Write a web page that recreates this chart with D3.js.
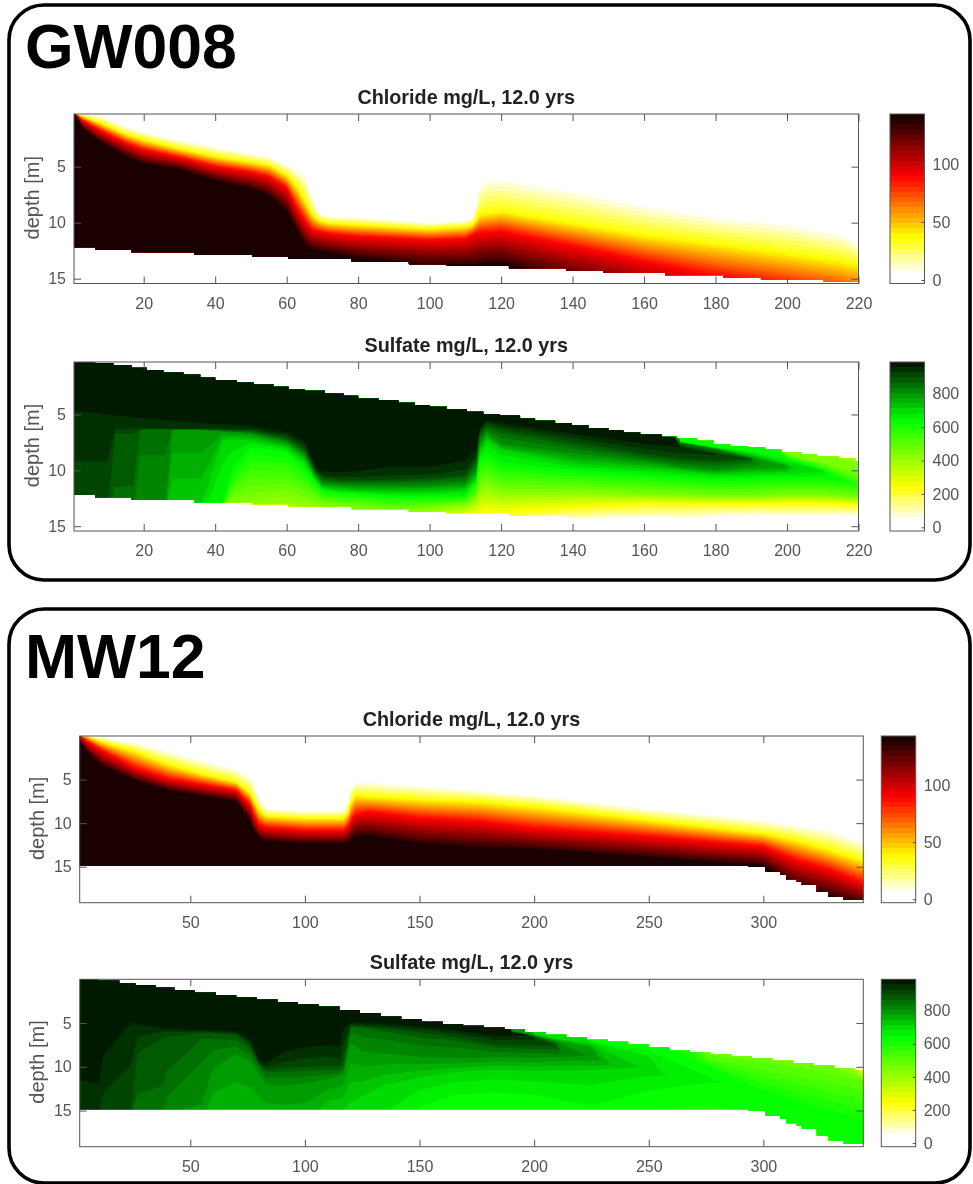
<!DOCTYPE html>
<html>
<head>
<meta charset="utf-8">
<script src="https://cdn.jsdelivr.net/npm/d3@7"></script>
<style>
  html, body { margin: 0; padding: 0; background: #fff; }
  svg { display: block; font-family: "Liberation Sans", Arial, sans-serif; }
  .tick text { fill: #555; font-size: 16px; }
  .tick line { stroke: #555; }
</style>
</head>
<body>
<div id="chart"></div>
<script>
var deep = 25, shallow = 0;

// GW008 ---------------------------------------------------------------
var gwXTicks = [20, 40, 60, 80, 100, 120, 140, 160, 180, 200, 220];
var gwBottomX = [0.5, 6.4, 16.6, 34.2, 50.4, 60.5, 78.2, 94.2, 104.6, 122.2, 138.3, 148.6, 165.9, 182.2, 192.7, 210.2, 220];
var gwBottom = [12.2, 12.44, 12.65, 12.88, 13.03, 13.24, 13.48, 13.72, 13.84, 14.07, 14.31, 14.46, 14.7, 14.91, 15.1, 15.27, 15.27];
var gwTopX = [0.5, 6.4, 11.5, 16.6, 20.8, 25.5, 31.1, 35.8, 40, 46, 50.7, 56.3, 60.5, 65.1, 70.7, 75.9, 80, 85.7, 91.3, 95.9, 100.1, 104.8, 110.4, 115, 119.7, 125.3, 129.5, 135.1, 139.8, 144.4, 150, 154.2, 158.9, 165, 169.2, 174.8, 179.5, 184.1, 189.2, 193.9, 198.6, 204.2, 208.4, 214.5, 219.1, 220];
var gwTop = [0.3, 0.4, 0.58, 0.81, 1.02, 1.23, 1.41, 1.68, 1.92, 2.13, 2.31, 2.52, 2.76, 2.88, 3.12, 3.33, 3.57, 3.71, 3.95, 4.16, 4.31, 4.52, 4.76, 4.97, 5.06, 5.36, 5.57, 5.75, 5.96, 6.2, 6.4, 6.61, 6.79, 7, 7.15, 7.36, 7.66, 7.84, 7.96, 8.14, 8.41, 8.56, 8.74, 8.95, 9.19, 9.19];

var gwClX = [1, 3, 8, 15, 20, 30, 40, 50, 55, 60, 63, 65, 67, 69, 72, 80, 100, 110, 112, 113, 114, 116, 120, 140, 160, 180, 200, 215, 220];
var clLevels = [6, 37, 89, 135];
var gwCl6 = [.33, .33, .45, 1.4, 1.9, 2.6, 3.2, 3.8, 4.1, 4.85, 5.3, 5.6, 7.6, 9.2, 9.4, 9.5, 10, 9.8, 9.5, 8.5, 6.7, 6.04, 6.04, 7.1, 8.4, 9.46, 10.06, 11, 11.85];
var gwCl37 = [.33, .5, 1.1, 2.1, 2.6, 3.4, 4.1, 4.6, 4.85, 5.75, 6.8, 8, 9.2, 9.8, 10.05, 10.2, 10.55, 10.35, 10.2, 9.8, 9.3, 9.17, 9, 10.06, 11.1, 11.85, 12.74, 13.4, 13.78];
var gwCl89 = [.33, .9, 1.8, 2.9, 3.5, 4.2, 5, 5.5, 5.9, 6.9, 8.8, 9.8, 10.65, 10.8, 11, 11.25, 11.55, 11.45, 11.1, 10.95, 10.9, 10.9, 10.8, 12.1, 13.5, 14.8, 15.7, 16.5, 16.9];
var gwCl135 = [.5, 1.6, 2.8, 4, 4.7, 5.2, 6.2, 6.9, 7.5, 8.9, 10.7, 11.85, 12.3, 12.45, 12.6, 13.05, 13.7, 13.7, 13.7, 13.7, 13.6, 13.5, 13.5, 15.1, 16.6, 18, 20, 21.5, 22];

var gwSoX = [1, 10, 12, 17, 19, 26, 28, 36, 38, 42, 45, 50, 60, 65, 68, 70, 75, 80, 90, 100, 110, 113, 114, 116, 120, 140, 160, 165, 170, 180, 190, 200, 210, 220];
var gwSoLevels = [50, 244, 450, 644, 700, 800, 850, 900, 950, 985];
var gwSo50 = [18, 18, 18, 18, 18, 18, 18, 18, 18, 18, 18, 18, 18, 18, 18, 18, 18, 18, 18, 18, 18, 18, 18, 17, 15.5, 14.5, 14.3, 14.3, 14.3, 14.2, 14.1, 14.1, 14.1, 14.1];
var gwSo244 = [16, 16, 16, 16, 16, 16, 16, 16, 16, 16, 16, 16, 16, 15.5, 15.5, 15.5, 15.5, 15.5, 15, 14.6, 14.1, 13.9, 13.8, 13.7, 13.7, 13.3, 13, 13, 13, 13, 13, 12.9, 12.9, 13.1];
var gwSo450 = [15, 15, 15, 15, 15, 15, 15, 14, 13.6, 13, 12.7, 12.4, 12, 12.5, 12.8, 13, 13.2, 13.3, 13.6, 13.4, 13, 12.5, 11.5, 11.2, 11.8, 11.8, 12.1, 12.15, 12.2, 12.3, 12.3, 12.2, 12.2, 12.4];
var gwSo644 = [14, 14, 14, 14, 14, 14, 14, 14, 14, 13.5, 10, 8, 8.4, 9.8, 11, 11.8, 12, 12.1, 12.3, 12.3, 12.3, 11, 9, 8.6, 9.4, 10, 10.4, 10.5, 10.6, 10.8, 10.7, 10.6, 10.6, 11];
var gwSo700 = [14, 14, 14, 14, 14, 14, 14, 14, 12, 7.4, 7.3, 7.4, 8, 9.2, 10.8, 11.6, 11.8, 11.9, 12, 12, 11.8, 10.8, 8.5, 7.4, 8.2, 9.5, 9.9, 10, 10.1, 10.4, 10.3, 10.2, 9.9, 0];
var gwSo800 = [14, 14, 14, 14, 14, 14, 6.4, 6.4, 6.45, 6.55, 6.6, 6.7, 7.5, 8.6, 10.4, 11.2, 11.3, 11.4, 11.4, 11.4, 11.2, 10, 7.6, 6.6, 7.7, 8.5, 9.2, 9.4, 9.7, 10, 9.7, 9.6, 0, 0];
var gwSo850 = [14, 14, 14, 14, 6.35, 6.35, 6.35, 6.35, 6.4, 6.45, 6.5, 6.6, 7.3, 8.3, 10.2, 10.9, 11.1, 11.1, 11.1, 11, 10.8, 9.5, 7.1, 6.3, 6.8, 7.9, 8.9, 9.1, 9.3, 9.5, 9.2, 0, 0, 0];
var gwSo900 = [13, 13, 6.3, 6.3, 6.3, 6.3, 6.3, 6.3, 6.3, 6.35, 6.4, 6.4, 7, 8, 10, 10.6, 10.8, 10.85, 10.8, 10.7, 10.4, 9, 6.6, 5.9, 6.3, 7.4, 8.5, 8.7, 8.9, 9.1, 8.9, 0, 0, 0];
var gwSo950 = [6.2, 6.2, 6.2, 6.2, 6.2, 6.2, 6.2, 6.2, 6.2, 6.2, 6.2, 6.25, 6.7, 7.5, 9.8, 10.3, 10.44, 10.4, 10.14, 10.1, 9.6, 8.5, 6.4, 5.6, 5.9, 6.85, 7.75, 7.9, 8.1, 8.3, 0, 0, 0, 0];
var gwSo985 = [.34, 1.6, 1.9, 2.6, 2.85, 3.45, 3.7, 4.5, 4.7, 5, 5.15, 5.55, 6.25, 7, 9.25, 9.4, 9.4, 8.95, 8.25, 8.55, 7.9, 7.15, 5.8, 5.3, 5.5, 6.4, 7.3, 7.45, 7.35, 0, 0, 0, 0, 0];

// top edge of each level on the right, where fresher water sits on the plume
var gwUpX = [160, 165, 170, 180, 190, 200, 210, 220];
var gwUp450 = [0, 0, 0, 0, 0, 8.55, 9.25, 10.14];
var gwUp644 = [0, 0, 7.4, 7.9, 8.3, 8.95, 10, 11.8];
var gwUp700 = [0, 0, 7.45, 8, 8.5, 9.4, 10, 20];
var gwUp800 = [0, 0, 7.5, 8.05, 8.9, 9.7, 20, 20];
var gwUp850 = [0, 7.1, 7.6, 8.2, 8.9, 20, 20, 20];
var gwUp900 = [0, 7.2, 7.8, 8.5, 9, 20, 20, 20];
var gwUp950 = [0, 7.3, 7.9, 8.5, 20, 20, 20, 20];
var gwUp985 = [0, 0, 7.4, 20, 20, 20, 20, 20];

// MW12 ----------------------------------------------------------------
var mwXTicks = [50, 100, 150, 200, 250, 300];
var mwBottomX = [1.75, 293.5, 300.8, 307.3, 310, 314.6, 316.8, 323.3, 328.4, 335, 343.6];
var mwBottom = [14.85, 15, 15.6, 15.95, 16.45, 16.75, 17.1, 17.87, 18.44, 18.8, 18.8];
var mwTopX = [2, 10, 19, 26, 35, 43, 52, 61, 70, 79, 88, 97, 106, 115, 124, 133, 142, 151, 160, 169, 178, 187, 196, 205, 214, 223, 232, 241, 250, 259, 268, 277, 286, 295, 304, 313, 322, 331, 340, 343.6];
var mwTop = [0, .15, .45, .65, .95, 1.22, 1.5, 1.8, 2.05, 2.3, 2.6, 2.85, 3.1, 3.5, 3.85, 4.25, 4.55, 4.85, 5.1, 5.3, 5.5, 5.7, 6.05, 6.35, 6.65, 6.9, 7.15, 7.45, 7.8, 8.1, 8.35, 8.6, 8.8, 9, 9.3, 9.6, 9.85, 10.15, 10.4, 10.4];

var mwClX = [2, 5, 11, 26, 40, 55, 70, 76, 78, 80, 83, 100, 117, 119, 120, 122, 128, 150, 176, 200, 250, 300, 314, 329, 343];
var mwCl6 = [0, 0, .13, .75, 1.67, 2.74, 3.8, 4.65, 5.6, 7.15, 8.3, 8.56, 8.5, 7.3, 5.8, 5.3, 5.23, 5.7, 6.19, 6.76, 8.3, 9.64, 10.2, 10.8, 12.1];
var mwCl37 = [0, 0, .63, 1.78, 3.24, 4.35, 5.3, 6.5, 7.53, 8.56, 9.18, 9.44, 9.44, 8.68, 7.72, 6.76, 6.95, 7.26, 7.53, 8.1, 9.64, 11.17, 11.93, 13.08, 14.23];
var mwCl89 = [0, .63, 1.6, 3.7, 4.92, 5.6, 6.26, 7.9, 9.25, 10.2, 10.5, 10.86, 10.86, 10.4, 9.83, 9.06, 8.75, 9.44, 9.83, 10.6, 11.55, 12.7, 14.23, 15.38, 16.9];
var mwCl135 = [.63, 1.78, 3.3, 5.04, 6.2, 6.84, 7.45, 9.64, 11, 11.63, 12, 12.3, 12.3, 12.1, 11.75, 11.36, 11.36, 12.24, 12.7, 12.9, 13.85, 14.8, 17, 18.3, 19.2];

var mwSoX = [2, 10, 12, 24, 27, 38, 40, 55, 60, 70, 76, 80, 83, 90, 100, 110, 115, 117, 120, 125, 135, 150, 165, 183, 200, 225, 250, 275, 297, 320, 343];
var mwSoLevels = [200, 300, 500, 644, 700, 800, 850, 900, 950, 985];
var mwSo644 = [20, 20, 20, 20, 20, 20, 20, 20, 20, 20, 20, 20, 20, 20, 20, 20, 20, 20, 20, 20, 20, 14.9, 13.5, 13.2, 13.5, 14.9, 13, 12, 13.2, 16, 18];
var mwSo700 = [20, 20, 20, 20, 20, 20, 20, 20, 20, 20, 20, 20, 20, 20, 20, 15.5, 15.5, 15.5, 14.9, 14, 12.5, 11.5, 10.8, 10.5, 10.7, 10.6, 10, 10.5, 0, 0, 0];
var mwSo800 = [15.5, 15.5, 15.5, 15.5, 15.5, 15.5, 15.5, 15, 10.4, 8.7, 9.5, 11, 12, 12.3, 12, 11.5, 11.1, 10.7, 7.5, 8.5, 8.7, 9, 9.2, 9, 9, 8.8, 9.5, 0, 0, 0, 0];
var mwSo850 = [15.5, 15.5, 15.5, 15.5, 15.5, 15, 12.5, 7.2, 7.15, 7.3, 8.4, 10, 10.8, 10.8, 10.7, 10.6, 10.6, 10.2, 5.5, 5.7, 6.2, 6.9, 7.2, 8, 8.2, 8.3, 0, 0, 0, 0, 0];
var mwSo900 = [15.5, 15.5, 15.5, 15.5, 8, 6.2, 6.2, 6.1, 6.1, 6.3, 7.5, 9.6, 10.3, 10.1, 10, 9.9, 9.9, 8.8, 5.3, 5.4, 5.6, 6, 6.5, 7.4, 7.5, 7.6, 0, 0, 0, 0, 0];
var mwSo950 = [15.5, 15.5, 11, 5.4, 5.5, 5.8, 5.85, 5.9, 6, 6.05, 7, 9.6, 9.8, 9, 8.3, 8, 8.5, 6, 5, 5.1, 5.2, 5.5, 5.9, 6.6, 6.4, 6.4, 0, 0, 0, 0, 0];
var mwSo985 = [.12, 1.84, 2.22, 3.63, 4.12, 5.08, 5.15, 5.46, 5.53, 5.65, 6.4, 8.12, 8.7, 6.6, 6.2, 6, 5.46, 4.8, 4.62, 4.7, 4.8, 5.15, 5.53, 6.22, 6.2, 0, 0, 0, 0, 0, 0];

var mwUpX = [183, 190, 200, 210, 225, 250, 275, 297, 320, 343];
var mwUp300 = [0, 0, 0, 0, 0, 0, 0, 0, 0, 10.6];
var mwUp500 = [0, 0, 0, 0, 0, 0, 8.8, 9.6, 10.6, 11.6];
var mwUp644 = [0, 0, 0, 0, 7.1, 8, 10, 13, 15, 17];
var mwUp700 = [0, 0, 6.3, 6.8, 7.3, 9.3, 20, 20, 20, 20];
var mwUp800 = [0, 5.9, 6.4, 7.1, 7.9, 20, 20, 20, 20, 20];
var mwUp850 = [0, 6, 6.5, 7.3, 20, 20, 20, 20, 20, 20];
var mwUp900 = [0, 6, 6.7, 7.6, 20, 20, 20, 20, 20, 20];
var mwUp950 = [0, 6, 6.5, 20, 20, 20, 20, 20, 20, 20];
var mwUp985 = [0, 5.9, 6.3, 20, 20, 20, 20, 20, 20, 20];

// colour maps
var chlorideMap = d3.scaleLinear().domain([6, 37, 89, 140])
    .range(["#ffffff", "#ffff00", "#ff0000", "#1a0000"]).clamp(true);
var sulfateMap = d3.scaleLinear().domain([44, 244, 644, 975])
    .range(["#ffffff", "#ffff00", "#00ff00", "#001a00"]).clamp(true);

var nColors = 32;
var width = 973, height = 1184;

var svg = d3.select("#chart").append("svg")
    .attr("width", width)
    .attr("height", height)
    .style("filter", "blur(0.6px)");

var clipCount = 0;

function rowScale(xs, row) {
    if (!Array.isArray(row)) return function() { return row; };
    return d3.scaleLinear().domain(xs).range(row);
}

function stepClip(x, y, xs, y0s, y1s) {
    var id = "clip" + (clipCount++);
    var area = d3.area()
        .curve(d3.curveStepAfter)
        .x(function(d) { return x(d); })
        .y0(function(d, i) { return y(y0s(i)); })
        .y1(function(d, i) { return y(y1s(i)); });
    svg.append("clipPath").attr("id", id).append("path").attr("d", area(xs));
    return "url(#" + id + ")";
}

function drawPanel(p) {
    var x = d3.scaleLinear().domain(p.xDomain).range([p.left, p.right]);
    var y = d3.scaleLinear().domain(p.yDomain).range([p.top, p.bottom]);

    svg.append("text")
        .attr("x", (p.left + p.right) / 2)
        .attr("y", p.top - 10)
        .attr("text-anchor", "middle")
        .attr("font-weight", "bold")
        .attr("font-size", 19.8)
        .attr("fill", "#222")
        .text(p.title);

    // stair-step edges of the model domain
    var bottomClip = stepClip(x, y, p.bottomX,
        function() { return p.yDomain[0]; },
        function(i) { return p.bottomD[i]; });
    var topClip = p.topX ? stepClip(x, y, p.topX,
        function(i) { return p.topD[i]; },
        function() { return p.yDomain[1]; }) : null;

    var heat = svg.append("g").attr("clip-path", bottomClip)
        .append("g").attr("clip-path", topClip);

    var lows = p.low.map(function(r) { return rowScale(p.xs, r); });
    var ups = p.up.map(function(r) { return rowScale(p.upXs, r); });

    var pixels = d3.range(p.left, p.right + 1).map(function(px) {
        var dx = x.invert(px);
        return {
            px: px,
            low: d3.scaleLinear().domain(p.levels).range(lows.map(function(s) { return s(dx); })).clamp(true),
            up: d3.scaleLinear().domain(p.levels).range(ups.map(function(s) { return s(dx); })).clamp(true)
        };
    });

    // filled contours, lowest band first
    var step = p.cTop / nColors;
    var bands = d3.range(nColors).map(function(j) { return j * step; });

    var contour = function(v) {
        return d3.area()
            .x(function(d) { return d.px; })
            .y0(function(d) { return y(d.up(v)); })
            .y1(function(d) { return y(Math.max(d.up(v), d.low(v))); })(pixels);
    };

    heat.selectAll("path.band").data(bands).enter().append("path")
        .attr("class", "band")
        .attr("d", function(v) { return contour(v); })
        .attr("fill", function(v) { return p.cmap(v + step / 2); });

    // axes, matlab style with inward ticks on all four sides
    var axes = svg.append("g");
    axes.append("g").attr("transform", "translate(0," + p.bottom + ")")
        .call(d3.axisBottom(x).tickValues(p.xTicks).tickSize(-7).tickPadding(14));
    axes.append("g").attr("transform", "translate(0," + p.top + ")")
        .call(d3.axisTop(x).tickValues(p.xTicks).tickSize(-7).tickFormat(""));
    axes.append("g").attr("transform", "translate(" + p.left + ",0)")
        .call(d3.axisLeft(y).tickValues([5, 10, 15]).tickSize(-7).tickPadding(8));
    axes.append("g").attr("transform", "translate(" + p.right + ",0)")
        .call(d3.axisRight(y).tickValues([5, 10, 15]).tickSize(-7).tickFormat(""));
    axes.selectAll(".domain").remove();

    svg.append("rect")
        .attr("x", p.left).attr("y", p.top)
        .attr("width", p.right - p.left).attr("height", p.bottom - p.top)
        .attr("fill", "none").attr("stroke", "#555");

    svg.append("text")
        .attr("transform", "translate(" + p.labelX + "," + ((p.top + p.bottom) / 2 - 1) + ") rotate(-90)")
        .attr("text-anchor", "middle")
        .attr("font-size", 20)
        .attr("fill", "#555")
        .text("depth [m]");

    // colour bar
    var c = d3.scaleLinear().domain(p.cDomain).range([p.bottom, p.top]);
    svg.selectAll(null).data(bands).enter().append("rect")
        .attr("x", p.barLeft)
        .attr("width", p.barRight - p.barLeft)
        .attr("y", function(v) { return Math.round(c(Math.min(v + step, p.cDomain[1]))); })
        .attr("height", function(v) {
            return Math.round(c(v)) - Math.round(c(Math.min(v + step, p.cDomain[1])));
        })
        .attr("fill", function(v) { return p.cmap(v + step / 2); });
    svg.append("g").attr("transform", "translate(" + p.barRight + ",0)")
        .call(d3.axisRight(c).tickValues(p.cTicks).tickSize(-3).tickPadding(8))
        .select(".domain").remove();
    svg.append("rect")
        .attr("x", p.barLeft).attr("y", p.top)
        .attr("width", p.barRight - p.barLeft).attr("height", p.bottom - p.top)
        .attr("fill", "none").attr("stroke", "#555");
}

function frame(y, h, name, nameX, baseline) {
    svg.append("rect")
        .attr("x", 9).attr("y", y)
        .attr("width", 961).attr("height", h)
        .attr("rx", 35).attr("ry", 35)
        .attr("fill", "#fff").attr("stroke", "#000").attr("stroke-width", 3.6);
    svg.append("text")
        .attr("x", nameX).attr("y", baseline)
        .attr("font-size", 62.5).attr("font-weight", "bold")
        .text(name);
}

frame(5, 575, "GW008", 25, 68);
frame(609, 574, "MW12", 25, 678);

var clTicks = [0, 50, 100], soTicks = [0, 200, 400, 600, 800];

drawPanel({
    title: "Chloride mg/L, 12.0 yrs", left: 74, right: 858.5, top: 114, bottom: 283.5, labelX: 39,
    xDomain: [0.5, 220], yDomain: [0.3, 15.43], xTicks: gwXTicks,
    bottomX: gwBottomX, bottomD: gwBottom,
    xs: gwClX, levels: clLevels, low: [deep, deep, deep, deep],
    upXs: gwClX, up: [gwCl6, gwCl37, gwCl89, gwCl135],
    cmap: chlorideMap, cDomain: [-3, 143], cTop: 143, cTicks: clTicks, barLeft: 890, barRight: 924.5
});
drawPanel({
    title: "Sulfate mg/L, 12.0 yrs", left: 74, right: 858.5, top: 362, bottom: 531, labelX: 39,
    xDomain: [0.5, 220], yDomain: [0.3, 15.43], xTicks: gwXTicks,
    bottomX: gwBottomX, bottomD: gwBottom, topX: gwTopX, topD: gwTop,
    xs: gwSoX, levels: gwSoLevels,
    low: [gwSo50, gwSo244, gwSo450, gwSo644, gwSo700, gwSo800, gwSo850, gwSo900, gwSo950, gwSo985],
    upXs: gwUpX,
    up: [shallow, shallow, gwUp450, gwUp644, gwUp700, gwUp800, gwUp850, gwUp900, gwUp950, gwUp985],
    cmap: sulfateMap, cDomain: [-22, 990], cTop: 990, cTicks: soTicks, barLeft: 890, barRight: 924.5
});
drawPanel({
    title: "Chloride mg/L, 12.0 yrs", left: 79.7, right: 863.3, top: 736, bottom: 902.7, labelX: 44,
    xDomain: [1.75, 343.6], yDomain: [0, 19.13], xTicks: mwXTicks,
    bottomX: mwBottomX, bottomD: mwBottom,
    xs: mwClX, levels: clLevels, low: [deep, deep, deep, deep],
    upXs: mwClX, up: [mwCl6, mwCl37, mwCl89, mwCl135],
    cmap: chlorideMap, cDomain: [-3, 143], cTop: 143, cTicks: clTicks, barLeft: 881.3, barRight: 915.7
});
drawPanel({
    title: "Sulfate mg/L, 12.0 yrs", left: 79.7, right: 863.3, top: 979.3, bottom: 1146.7, labelX: 44,
    xDomain: [1.75, 343.6], yDomain: [0, 19.13], xTicks: mwXTicks,
    bottomX: mwBottomX, bottomD: mwBottom, topX: mwTopX, topD: mwTop,
    xs: mwSoX, levels: mwSoLevels,
    low: [deep, deep, deep, mwSo644, mwSo700, mwSo800, mwSo850, mwSo900, mwSo950, mwSo985],
    upXs: mwUpX,
    up: [shallow, mwUp300, mwUp500, mwUp644, mwUp700, mwUp800, mwUp850, mwUp900, mwUp950, mwUp985],
    cmap: sulfateMap, cDomain: [-22, 990], cTop: 990, cTicks: soTicks, barLeft: 881.3, barRight: 915.7
});
</script>
</body>
</html>
